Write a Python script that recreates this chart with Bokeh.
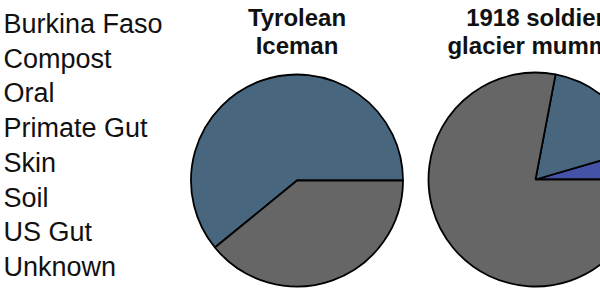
import numpy as np
from bokeh.plotting import figure
from bokeh.models import Range1d
from bokeh.core.properties import value
from bokeh.embed import file_html
from bokeh.resources import INLINE

categories = ["Burkina Faso", "Compost", "Oral", "Primate Gut", "Skin", "Soil", "US Gut", "Unknown"]
colors = ["#c9a03c", "#7a9a4a", "#b04a4a", "#8a5a9a", "#4452a8", "#48677e", "#d08040", "#666666"]
titles = [["Tyrolean", "Iceman"], ["1918 soldier", "glacier mummy"]]
# fractions per pie, in category order
iceman = [0, 0, 0, 0, 0, 0.609, 0, 0.391]
soldier = [0, 0, 0, 0, 0.045, 0.175, 0, 0.780]
pies = [iceman, soldier]

W, H = 600, 300
p = figure(width=W, height=H, x_range=Range1d(0, W), y_range=Range1d(0, H),
           output_backend="svg", toolbar_location=None, min_border=0)
p.axis.visible = False
p.grid.visible = False
p.outline_line_color = None
p.background_fill_color = "white"

# legend text (markers cropped in original)
leg_y0, leg_dy = 23.5, 34.7
for i, c in enumerate(categories):
    p.text(x=[3], y=[H - (leg_y0 + i * leg_dy)], text=[c], text_font=value("Liberation Sans"),
           text_font_size="27px", text_color="#111111", text_baseline="alphabetic", text_align="left")

centers = [(296.5, 180), (535, 179)]
radii = [106, 107]
for (cx, cy), r, fr, tt in zip(centers, radii, pies, titles):
    fr = np.array(fr, dtype=float)
    cum = np.concatenate([[0], np.cumsum(fr)])
    for k in range(len(categories)):
        if fr[k] <= 0:
            continue
        p.wedge(x=[cx], y=[H - cy], radius=r, start_angle=2 * np.pi * cum[k], end_angle=2 * np.pi * cum[k + 1],
                direction="anticlock", fill_color=colors[k], line_color="black", line_width=1.8)
    for j, line in enumerate(tt):
        p.text(x=[cx], y=[H - (16.5 + j * 28)], text=[line], text_font=value("Liberation Sans"),
               text_font_size="24px", text_font_style="bold", text_color="#111111",
               text_align="center", text_baseline="alphabetic")

open("out.html", "w").write(file_html(p, INLINE))
